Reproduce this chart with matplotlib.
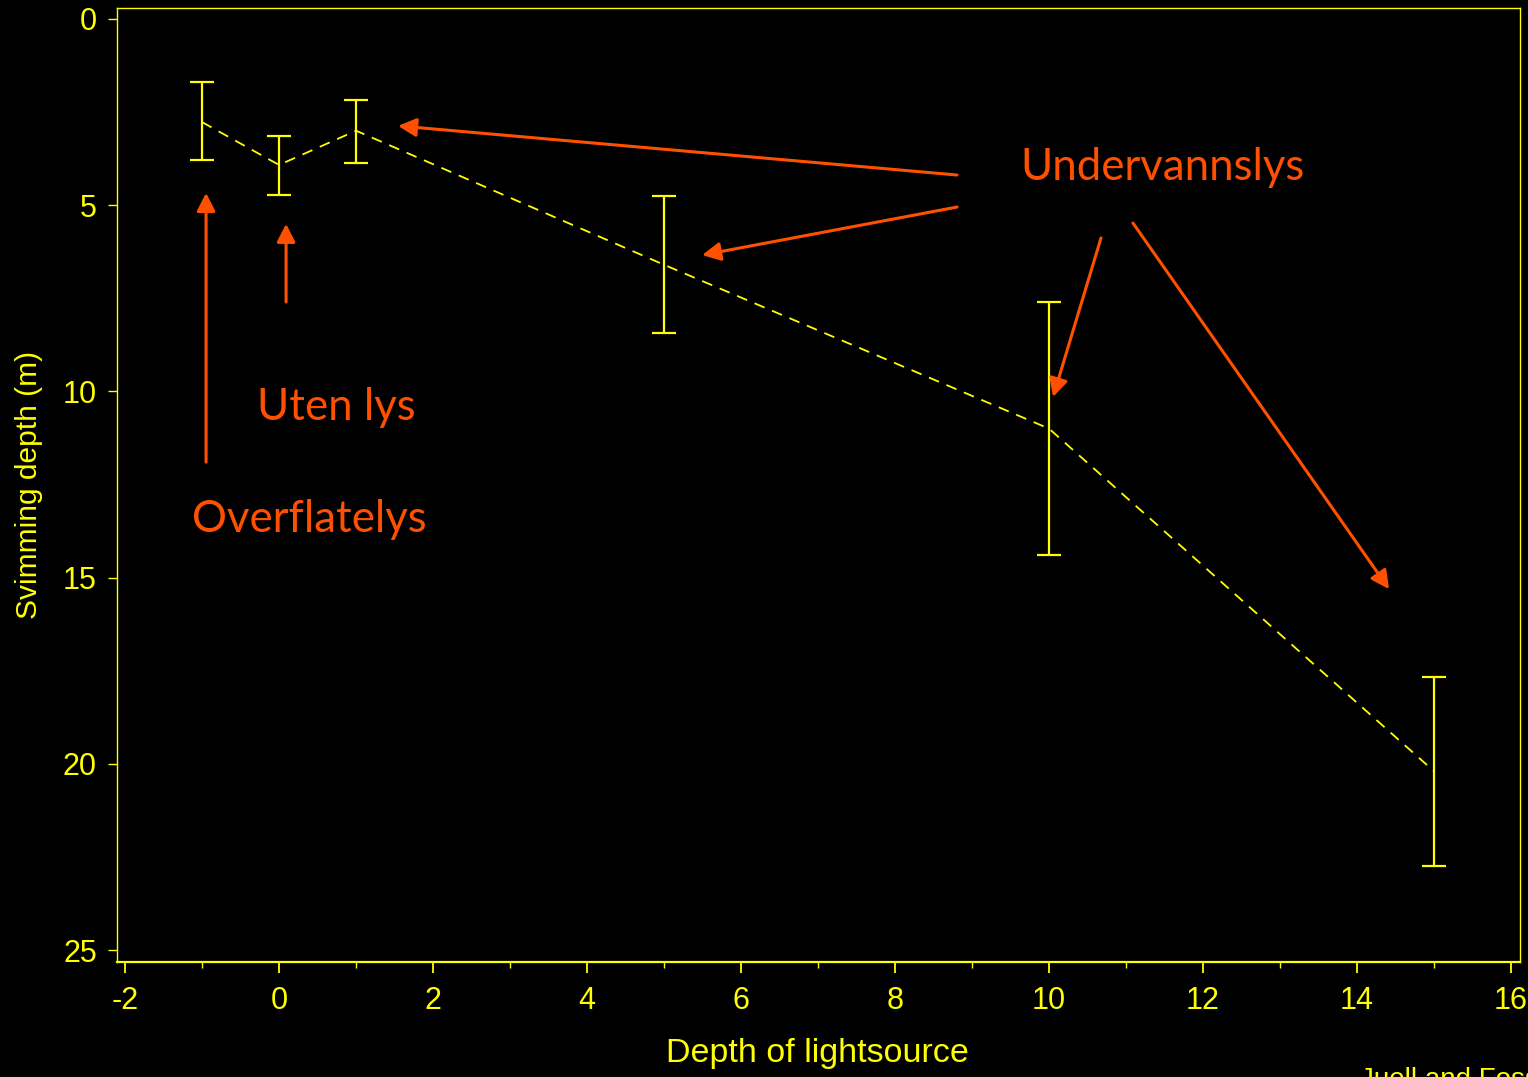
import matplotlib.pyplot as plt
from matplotlib.ticker import MultipleLocator

plt.rcParams["axes.unicode_minus"] = False

# =========================================================
# DATA
# =========================================================

light_depth = [-1, 0, 1, 5, 10, 15]
swim_depth = [2.77, 3.92, 3.0, 6.6, 11.0, 20.2]
err_low = [1.08, 0.78, 0.82, 1.85, 3.4, 2.53]
err_high = [1.02, 0.81, 0.87, 1.83, 3.39, 2.54]

x_ticks = [-2, 0, 2, 4, 6, 8, 10, 12, 14, 16]
y_ticks = [0, 5, 10, 15, 20, 25]

YELLOW = "#FFFF00"
ORANGE = "#FF5000"

# =========================================================
# FIGURE
# =========================================================

fig = plt.figure(figsize=(15.28, 10.77), dpi=100, facecolor="black")
ax = fig.add_axes([0.0766, 0.1068, 0.9182, 0.8858], facecolor="black")

ax.plot(light_depth, swim_depth, color=YELLOW, lw=1.3,
        linestyle=(0, (6, 4.5)))

ax.errorbar(light_depth, swim_depth, yerr=[err_low, err_high],
            fmt="none", ecolor=YELLOW, elinewidth=1.6,
            capsize=8.5, capthick=1.6)

ax.set_xlim(-2.104, 16.117)
ax.set_ylim(25.32, -0.295)

ax.set_xticks(x_ticks)
ax.set_yticks(y_ticks)
ax.xaxis.set_minor_locator(MultipleLocator(1))

ax.tick_params(axis="both", colors=YELLOW, labelsize=22,
               labelfontfamily="Liberation Sans")
ax.tick_params(axis="x", which="major", length=8, width=1.3, pad=9)
ax.tick_params(axis="x", which="minor", length=4, width=1.0, colors=YELLOW)
ax.tick_params(axis="y", which="major", length=6.5, width=1.0, pad=8)

for side in ["left", "right", "top"]:
    ax.spines[side].set_color(YELLOW)
    ax.spines[side].set_linewidth(1.0)
ax.spines["bottom"].set_color(YELLOW)
ax.spines["bottom"].set_linewidth(1.6)

ax.set_ylabel("Svimming depth (m)", color=YELLOW, fontsize=21.5,
              family="Liberation Sans", labelpad=14.5)

fig.text(0.535, 0.022, "Depth of lightsource", color=YELLOW, fontsize=24.5,
         family="Liberation Sans", ha="center", va="center")

fig.text(0.89, 0.009, "Juell and Fosseidengen", color=YELLOW, fontsize=20,
         family="Liberation Sans", ha="left", va="top")

# =========================================================
# ANNOTATIONS
# =========================================================

arrow_props = dict(arrowstyle="-|>,head_length=0.55,head_width=0.28",
                   mutation_scale=20, color=ORANGE, lw=2.2,
                   shrinkA=0, shrinkB=0)

arrows = [
    ((8.805, 4.19), (1.545, 2.87)),
    ((8.805, 5.05), (5.494, 6.34)),
    ((10.675, 5.88), (10.052, 10.15)),
    ((11.09, 5.48), (14.416, 15.31)),
    ((-0.948, 11.90), (-0.948, 4.67)),
    ((0.091, 7.60), (0.091, 5.50)),
]

for start, end in arrows:
    ax.annotate("", xy=end, xytext=start, arrowprops=arrow_props)

label_font = dict(color=ORANGE, fontsize=31.5, family="Lato",
                  ha="center", va="center")

ax.text(11.47, 3.99, "Undervannslys", **label_font)
ax.text(0.74, 10.42, "Uten lys", **label_font)
ax.text(0.396, 13.45, "Overflatelys", **label_font)

fig.savefig("out.png", dpi=100, facecolor="black")
